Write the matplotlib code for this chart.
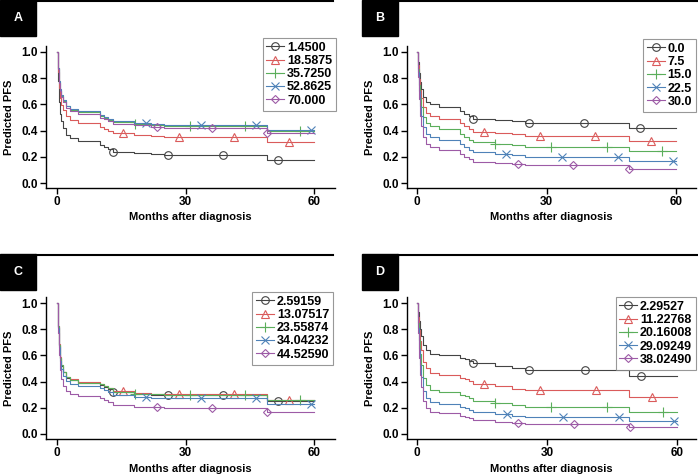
"""
Predicted PFS curves, four panels (A-D), five covariate levels each.
Step curves redrawn from values read off the published figure.
"""

import numpy as np
import matplotlib
matplotlib.use("Agg")
import matplotlib.pyplot as plt
from matplotlib.patches import Rectangle
from matplotlib.lines import Line2D

plt.rcParams['font.family'] = ['Liberation Sans', 'DejaVu Sans']
plt.rcParams['font.weight'] = 'bold'

# DATA
# step start times (months), shared by all curves; curves end at END_TIME
STEP_TIMES = [0, 0.25, 0.5, 0.75, 1, 1.5, 2, 3, 5, 10, 11, 12, 13, 18, 22, 25, 49]
END_TIME = 60

# first marker time per curve and spacing between markers
MARK_START = [13.0, 15.5, 18.1, 20.7, 23.3]
MARK_STEP = 12.9

A_LABELS = ["1.4500", "18.5875", "35.7250", "52.8625", "70.000"]
A_CURVES = [
    [1.0, 0.78, 0.62, 0.53, 0.47, 0.42, 0.37, 0.34, 0.32, 0.29, 0.275, 0.26, 0.24, 0.23, 0.22, 0.212, 0.179],
    [1.0, 0.845, 0.722, 0.649, 0.599, 0.554, 0.509, 0.480, 0.461, 0.431, 0.416, 0.400, 0.379, 0.368, 0.357, 0.348, 0.310],
    [1.0, 0.875, 0.773, 0.710, 0.665, 0.626, 0.585, 0.558, 0.541, 0.512, 0.498, 0.483, 0.463, 0.452, 0.441, 0.433, 0.395],
    [1.0, 0.877, 0.776, 0.714, 0.670, 0.631, 0.590, 0.564, 0.547, 0.519, 0.505, 0.490, 0.470, 0.459, 0.448, 0.440, 0.402],
    [1.0, 0.870, 0.765, 0.701, 0.655, 0.615, 0.573, 0.547, 0.528, 0.500, 0.485, 0.470, 0.450, 0.439, 0.428, 0.420, 0.382],
]

B_LABELS = ["0.0", "7.5", "15.0", "22.5", "30.0"]
B_CURVES = [
    [1.0, 0.92, 0.84, 0.77, 0.72, 0.66, 0.62, 0.60, 0.58, 0.55, 0.53, 0.51, 0.49, 0.48, 0.47, 0.455, 0.42],
    [1.0, 0.897, 0.796, 0.710, 0.650, 0.580, 0.534, 0.512, 0.490, 0.457, 0.435, 0.414, 0.393, 0.382, 0.372, 0.357, 0.321],
    [1.0, 0.872, 0.751, 0.651, 0.583, 0.506, 0.457, 0.432, 0.409, 0.375, 0.353, 0.331, 0.311, 0.300, 0.290, 0.275, 0.241],
    [1.0, 0.844, 0.701, 0.587, 0.512, 0.429, 0.377, 0.352, 0.329, 0.295, 0.274, 0.253, 0.233, 0.224, 0.214, 0.200, 0.170],
    [1.0, 0.809, 0.642, 0.515, 0.434, 0.348, 0.297, 0.273, 0.251, 0.219, 0.199, 0.181, 0.164, 0.155, 0.147, 0.135, 0.110],
]

C_LABELS = ["2.59159", "13.07517", "23.55874", "34.04232", "44.52590"]
C_CURVES = [
    [1.0, 0.82, 0.68, 0.58, 0.52, 0.47, 0.43, 0.41, 0.39, 0.375, 0.36, 0.345, 0.32, 0.305, 0.30, 0.295, 0.255],
    [1.0, 0.823, 0.685, 0.586, 0.527, 0.477, 0.437, 0.417, 0.397, 0.382, 0.367, 0.353, 0.328, 0.312, 0.307, 0.302, 0.262],
    [1.0, 0.822, 0.682, 0.583, 0.523, 0.474, 0.434, 0.413, 0.393, 0.378, 0.363, 0.349, 0.324, 0.309, 0.303, 0.298, 0.259],
    [1.0, 0.809, 0.662, 0.558, 0.497, 0.446, 0.405, 0.385, 0.365, 0.350, 0.335, 0.320, 0.296, 0.281, 0.276, 0.271, 0.232],
    [1.0, 0.770, 0.601, 0.487, 0.422, 0.369, 0.328, 0.308, 0.288, 0.274, 0.260, 0.246, 0.222, 0.209, 0.204, 0.200, 0.165],
]

D_LABELS = ["2.29527", "11.22768", "20.16008", "29.09249", "38.02490"]
D_CURVES = [
    [1.0, 0.93, 0.86, 0.80, 0.75, 0.68, 0.64, 0.61, 0.60, 0.58, 0.57, 0.555, 0.54, 0.52, 0.505, 0.492, 0.446],
    [1.0, 0.894, 0.792, 0.708, 0.640, 0.550, 0.501, 0.465, 0.453, 0.430, 0.418, 0.401, 0.385, 0.363, 0.347, 0.333, 0.286],
    [1.0, 0.851, 0.715, 0.609, 0.528, 0.425, 0.371, 0.334, 0.322, 0.298, 0.287, 0.271, 0.255, 0.234, 0.219, 0.207, 0.167],
    [1.0, 0.811, 0.648, 0.526, 0.437, 0.329, 0.277, 0.241, 0.230, 0.208, 0.198, 0.183, 0.169, 0.152, 0.140, 0.130, 0.098],
    [1.0, 0.770, 0.581, 0.448, 0.355, 0.250, 0.200, 0.169, 0.159, 0.141, 0.132, 0.120, 0.109, 0.095, 0.085, 0.078, 0.055],
]

# STYLE
COLORS = ['#444444', '#DA5B5B', '#5BAE5B', '#4F82B8', '#9D5BA6']
MARKERS = ['o', '^', '+', 'x', 'D']
MSIZES = [5.5, 6, 7, 5.5, 4.5]

W, H = 698, 474
fig = plt.figure(figsize=(W / 100, H / 100), dpi=100)


def fx(px):
    return px / W


def fy(py):
    return 1 - py / H


# panels: letter, labels, curves, spine box (px), data anchors (px), legend (right, top) px, header y
panels = [
    ("A", A_LABELS, A_CURVES, (46, 46, 335, 188), (57, 314, 183, 52), (336, 38), 0),
    ("B", B_LABELS, B_CURVES, (407, 46, 696, 188), (417, 676, 183, 52), (696, 39), 0),
    ("C", C_LABELS, C_CURVES, (46, 297, 335, 439), (57, 314, 434, 303), (333, 292), 254),
    ("D", D_LABELS, D_CURVES, (407, 297, 696, 439), (417, 677, 434, 303), (696, 297), 254),
]

x_end = STEP_TIMES + [END_TIME]

for letter, labels, curves, box, anch, leg, hy in panels:
    l, t, r, b = box
    x0p, x60p, y0p, y1p = anch
    ax = fig.add_axes([fx(l), fy(b), fx(r - l), (b - t) / H])
    xs = (x60p - x0p) / 60
    ys = (y0p - y1p)
    ax.set_xlim(-(x0p - l) / xs, 60 + (r - x60p) / xs)
    ax.set_ylim(-(b - y0p) / ys, 1 + (y1p - t) / ys)

    handles = []
    for i, vals in enumerate(curves):
        yv = vals + [vals[-1]]
        ax.step(x_end, yv, where='post', color=COLORS[i], lw=0.8)
        mt = np.arange(MARK_START[i], END_TIME + 0.01, MARK_STEP)
        idx = np.searchsorted(STEP_TIMES, mt, side='right') - 1
        my = np.array(vals)[idx]
        ax.plot(mt, my, ls='none', marker=MARKERS[i], ms=MSIZES[i],
                mfc='none', mec=COLORS[i], mew=0.8)
        handles.append(Line2D([], [], color=COLORS[i], lw=0.8, marker=MARKERS[i],
                              ms=MSIZES[i], mfc='none', mec=COLORS[i], mew=0.8))

    for s in ['top', 'right']:
        ax.spines[s].set_visible(False)
    for s in ['left', 'bottom']:
        ax.spines[s].set_linewidth(1.0)
    ax.set_xticks([0, 30, 60])
    ax.set_yticks([0.0, 0.2, 0.4, 0.6, 0.8, 1.0])
    ax.set_yticklabels(["0.0", "0.2", "0.4", "0.6", "0.8", "1.0"])
    ax.tick_params(direction='out', length=4, width=1, labelsize=8.5, pad=2)
    ax.set_xlabel("Months after diagnosis", fontsize=8, fontweight='bold', labelpad=3)
    ax.set_ylabel("Predicted PFS", fontsize=8, fontweight='bold', labelpad=5)

    lg = ax.legend(handles, labels, loc='upper right',
                   bbox_to_anchor=(fx(leg[0]), fy(leg[1])), bbox_transform=fig.transFigure,
                   borderaxespad=0, fancybox=False, frameon=True, fontsize=9,
                   handlelength=1.4, handletextpad=0.25, labelspacing=0.1,
                   borderpad=0.3)
    lg.get_frame().set_edgecolor('#7f7f7f')
    lg.get_frame().set_linewidth(0.8)

    # panel header: black letter box + rule along the top
    bx = 0 if letter in "AC" else 362
    fig.patches.append(Rectangle((fx(bx), fy(hy + 36)), fx(36), 36 / H,
                                 transform=fig.transFigure, color='black'))
    fig.text(fx(bx + 18), fy(hy + 18), letter, color='white', fontsize=9,
             fontweight='bold', ha='center', va='center')
    line_end = 333 if letter in "AC" else 698
    fig.lines.append(Line2D([fx(bx + 36), fx(line_end)], [fy(hy + 1), fy(hy + 1)],
                            transform=fig.transFigure, color='black', lw=1.5))

fig.savefig("out.png", dpi=100)
